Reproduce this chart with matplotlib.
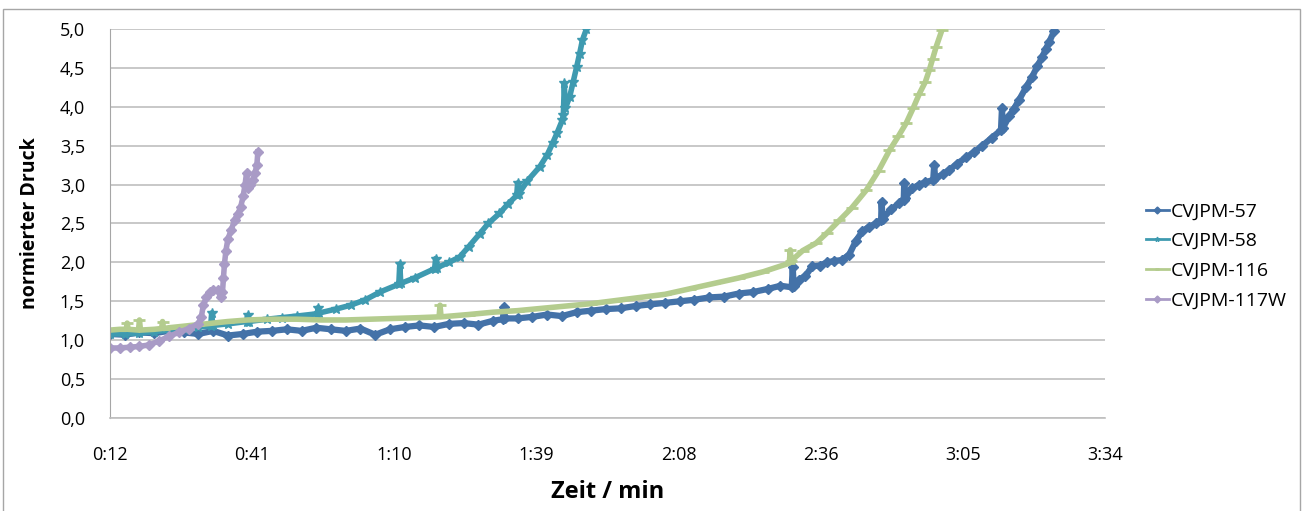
import numpy as np
import matplotlib.pyplot as plt
from matplotlib.patches import Rectangle

# time in seconds, normalised pressure
t57 = [12, 15, 18, 21, 24, 27, 30, 33, 36, 39, 42, 45, 48, 51, 54, 57, 60, 63, 66, 69,
       72, 75, 78, 81, 84, 87, 90, 92, 92.2, 92.4, 95, 98, 101, 104, 107, 110, 113, 116,
       119, 122, 125, 128, 131, 134, 137, 140, 143, 146, 148.5, 150.8, 151.0, 151.2, 152.3,
       153.5, 155.0, 156.5, 158, 159.5, 161, 162.5, 163.9, 165.2, 166.6, 168, 169.0, 169.1,
       169.3, 171, 172.7, 173.6, 173.7, 173.9, 175.3, 176.8, 178, 179.6, 179.8, 180, 181.5,
       182.9, 184.5, 186.3, 188, 189.6, 191.5, 193.4, 193.6, 193.8, 195.1, 196, 197.1,
       198.5, 199.7, 200.8, 201.8, 202.5, 203.2, 204.2]
v57 = [1.08, 1.07, 1.10, 1.09, 1.12, 1.10, 1.08, 1.12, 1.06, 1.08, 1.11, 1.12, 1.14, 1.12,
       1.16, 1.14, 1.12, 1.15, 1.07, 1.14, 1.17, 1.19, 1.17, 1.21, 1.22, 1.20, 1.25, 1.27,
       1.43, 1.28, 1.28, 1.30, 1.33, 1.31, 1.36, 1.38, 1.40, 1.41, 1.44, 1.46, 1.48, 1.50,
       1.52, 1.55, 1.56, 1.60, 1.62, 1.66, 1.70, 1.68, 1.94, 1.70, 1.78, 1.82, 1.95, 1.96,
       2.00, 2.02, 2.03, 2.10, 2.28, 2.40, 2.46, 2.50, 2.55, 2.78, 2.56, 2.68, 2.76, 2.80,
       3.02, 2.83, 2.95, 3.00, 3.03, 3.06, 3.25, 3.08, 3.13, 3.19, 3.27, 3.35, 3.42, 3.50,
       3.60, 3.70, 3.98, 3.73, 3.88, 3.97, 4.09, 4.25, 4.38, 4.52, 4.64, 4.74, 4.83, 4.97]

t58 = [12, 15, 18, 21, 24, 27, 30, 32.5, 32.7, 32.9, 36, 39.8, 40, 40.2, 44, 47, 50, 54.2,
       54.4, 54.6, 58, 61, 64, 67, 70.8, 71.0, 71.2, 74, 78.1, 78.3, 78.5, 81, 83.2, 85,
       87.3, 89, 91.3, 93, 94.8, 95.0, 95.2, 97, 99.5, 101, 102.1, 103, 104.1, 104.3, 104.5,
       104.7, 105.6, 106.3, 107.0, 107.6, 108.2, 109.0]
v58 = [1.08, 1.08, 1.09, 1.11, 1.13, 1.15, 1.17, 1.18, 1.35, 1.19, 1.21, 1.24, 1.32, 1.24,
       1.27, 1.29, 1.31, 1.34, 1.42, 1.35, 1.40, 1.45, 1.52, 1.62, 1.72, 1.98, 1.73, 1.80,
       1.92, 2.05, 1.93, 2.00, 2.07, 2.20, 2.37, 2.50, 2.63, 2.75, 2.86, 3.02, 2.88, 3.05,
       3.23, 3.38, 3.53, 3.66, 3.83, 3.90, 4.30, 3.98, 4.13, 4.32, 4.51, 4.68, 4.86, 5.00]

t116 = [12, 14, 15.3, 15.5, 15.7, 17.8, 18.0, 18.2, 21, 22.5, 22.7, 22.9, 24, 27, 30, 33,
        36, 40, 45, 50, 55, 60, 65, 70, 75, 79.0, 79.2, 79.4, 85, 90, 95, 100, 105, 110,
        115, 120, 125, 130, 135, 140, 145, 150.3, 150.5, 150.7, 153, 155.8, 158, 160.5,
        163, 166, 168.5, 170.7, 172.5, 174.1, 175.5, 176.8, 178, 178.8, 179.5, 180.2, 181.4]
v116 = [1.13, 1.14, 1.14, 1.22, 1.14, 1.13, 1.26, 1.13, 1.14, 1.15, 1.24, 1.15, 1.16, 1.18,
        1.20, 1.22, 1.24, 1.26, 1.27, 1.27, 1.26, 1.26, 1.27, 1.28, 1.29, 1.30, 1.45, 1.30,
        1.33, 1.36, 1.38, 1.41, 1.44, 1.47, 1.51, 1.55, 1.59, 1.66, 1.73, 1.80, 1.88, 1.99,
        2.16, 2.02, 2.15, 2.25, 2.38, 2.54, 2.70, 2.93, 3.18, 3.44, 3.62, 3.79, 3.98, 4.17,
        4.32, 4.47, 4.62, 4.77, 4.99]

t117 = [12, 14, 16, 18, 20, 22, 24, 26, 28, 30, 30.6, 31.0, 31.6, 32.3, 33.0, 34.0, 34.5,
        34.9, 35.1, 35.3, 35.6, 36.0, 36.7, 37.4, 38.0, 38.6, 39.1, 39.5, 39.8, 40.1, 40.6,
        41.1, 41.5, 41.9, 42.1]
v117 = [0.90, 0.90, 0.91, 0.92, 0.94, 0.99, 1.05, 1.10, 1.15, 1.21, 1.30, 1.45, 1.55, 1.62,
        1.64, 1.65, 1.55, 1.62, 1.80, 1.98, 2.15, 2.30, 2.42, 2.55, 2.62, 2.71, 2.85, 3.00,
        3.15, 2.96, 3.00, 3.06, 3.15, 3.25, 3.42]

names = ['CVJPM-57', 'CVJPM-58', 'CVJPM-116', 'CVJPM-117W']
xtick_labels = ['0:12', '0:41', '1:10', '1:39', '2:08', '2:36', '3:05', '3:34']
ytick_labels = ['0,0', '0,5', '1,0', '1,5', '2,0', '2,5', '3,0', '3,5', '4,0', '4,5', '5,0']

plt.rcParams['font.family'] = ['Open Sans', 'DejaVu Sans']

fig = plt.figure(figsize=(13.09, 5.11), dpi=100)
ax = fig.add_axes([110 / 1309, 1 - 418 / 511, 995 / 1309, 389 / 511])

# border around the whole chart
fig.patches.append(Rectangle((3 / 1309, -0.01), 1297 / 1309, 1 - 9 / 511 + 0.01,
                             transform=fig.transFigure, fill=False,
                             edgecolor='#A6A6A6', lw=1.0))

ax.plot(t57, v57, color='#4472A8', lw=4.5, marker='D', ms=5, label=names[0])
ax.plot(t58, v58, color='#3E9AB0', lw=4, marker='*', ms=7, label=names[1])
ax.plot(t116, v116, color='#B4CC8E', lw=4, marker='_', ms=8, mew=2, label=names[2])
ax.plot(t117, v117, color='#A99BC6', lw=4, marker='D', ms=5, label=names[3])

step = 28.94
ax.set_xlim(12, 12 + 7 * step)
ax.set_xticks([12 + i * step for i in range(len(xtick_labels))])
ax.set_xticklabels(xtick_labels, fontsize=13)
ax.set_ylim(0, 5)
ax.set_yticks(np.arange(0, 5.01, 0.5))
ax.set_yticklabels(ytick_labels, fontsize=13)
ax.tick_params(axis='x', length=0, pad=20)
ax.tick_params(axis='y', length=0, pad=18)

ax.grid(axis='y', color='#BFBFBF', lw=1.2)
ax.set_axisbelow(True)
for s in ['top', 'right']:
    ax.spines[s].set_visible(False)
ax.spines['left'].set_color('#A6A6A6')
ax.spines['bottom'].set_color('#BFBFBF')
ax.spines['bottom'].set_linewidth(1.2)

ax.set_xlabel('Zeit / min', fontsize=17, fontweight='bold', labelpad=12)
ax.set_ylabel('normierter Druck', fontsize=14, fontweight='bold', labelpad=14)

leg = ax.legend(loc='center left', bbox_to_anchor=(1128 / 1309, 1 - 256 / 511),
                bbox_transform=fig.transFigure, frameon=False, fontsize=14,
                handlelength=1.2, handletextpad=0.1, labelspacing=0.6)
for h in leg.get_lines():
    h.set_linewidth(2)
    h.set_markersize(3.5)

fig.savefig('out.png', dpi=100)
